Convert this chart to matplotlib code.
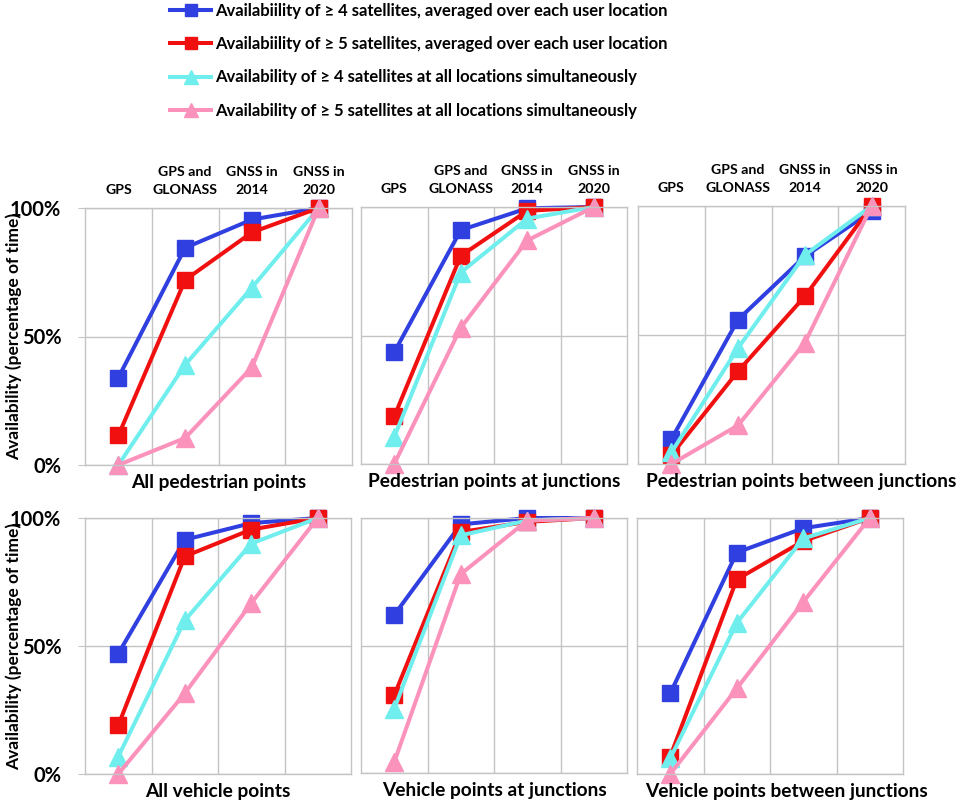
import matplotlib
matplotlib.use("Agg")
import matplotlib.pyplot as plt
import numpy as np

plt.rcParams["font.family"] = ["Lato", "DejaVu Sans"]
plt.rcParams["font.weight"] = "bold"

CATEGORIES = ["GPS", "GPS and\nGLONASS", "GNSS in\n2014", "GNSS in\n2020"]
PANEL_TITLES = [
    "All pedestrian points",
    "Pedestrian points at junctions",
    "Pedestrian points between junctions",
    "All vehicle points",
    "Vehicle points at junctions",
    "Vehicle points between junctions",
]
SERIES_LABELS = [
    "Availabiility of \u2265 4 satellites, averaged over each user location",
    "Availabiility of \u2265 5 satellites, averaged over each user location",
    "Availability of \u2265 4 satellites at all locations simultaneously",
    "Availability of \u2265 5 satellites at all locations simultaneously",
]

# values per panel, fraction of time (GPS, GPS+GLONASS, GNSS 2014, GNSS 2020)
avg4 = [
    [0.34, 0.845, 0.955, 1.00],
    [0.435, 0.91, 0.995, 1.00],
    [0.096, 0.56, 0.805, 0.98],
    [0.47, 0.915, 0.98, 1.00],
    [0.62, 0.975, 1.00, 1.00],
    [0.315, 0.865, 0.96, 1.00],
]
avg5 = [
    [0.115, 0.72, 0.905, 1.00],
    [0.185, 0.81, 0.985, 1.00],
    [0.035, 0.36, 0.65, 1.00],
    [0.19, 0.85, 0.955, 1.00],
    [0.305, 0.945, 0.985, 1.00],
    [0.068, 0.76, 0.91, 1.00],
]
all4 = [
    [0.00, 0.39, 0.69, 1.00],
    [0.105, 0.745, 0.955, 1.00],
    [0.045, 0.45, 0.81, 1.00],
    [0.068, 0.60, 0.90, 1.00],
    [0.252, 0.932, 0.99, 1.00],
    [0.061, 0.59, 0.92, 1.00],
]
all5 = [
    [0.00, 0.105, 0.38, 1.00],
    [0.00, 0.53, 0.87, 1.00],
    [0.00, 0.15, 0.47, 1.00],
    [0.00, 0.315, 0.667, 1.00],
    [0.043, 0.78, 0.99, 1.00],
    [0.00, 0.334, 0.672, 1.00],
]

COLORS = ["#2f3fe0", "#f01010", "#70eeee", "#fb92bc"]
MARKERS = ["s", "s", "^", "^"]
GRID = "#c4c4c4"

W, H = 961, 802
fig = plt.figure(figsize=(W / 100, H / 100), dpi=100)

# panel boxes in pixels: left, top, right, bottom
boxes = [
    (85, 208, 352, 465),
    (361, 207, 627, 464),
    (638, 206, 905, 464),
    (85, 518, 351, 774),
    (361, 518, 627, 773),
    (637, 518, 903, 774),
]
# horizontal shift of the panel titles, pixels
title_shift = [0, 0, 30, 0, 0, 16]

x = np.arange(len(CATEGORIES))
axes = []
for i, (l, t, r, b) in enumerate(boxes):
    ax = fig.add_axes([l / W, 1 - b / H, (r - l) / W, (b - t) / H])
    axes.append(ax)
    for vals, c, m in zip([avg4[i], avg5[i], all4[i], all5[i]], COLORS, MARKERS):
        ms = 12 if m == "s" else 13.5
        ax.plot(x, vals, color=c, marker=m, ms=ms, lw=2.9, clip_on=False,
                solid_joinstyle="miter")
    ax.set_xlim(-0.5, 3.5)
    ax.set_ylim(0, 1)
    ax.set_xticks([])
    ax.set_xticks([0.5, 1.5, 2.5], minor=True)
    ax.set_yticks([0, 0.5, 1])
    ax.grid(True, which="minor", axis="x", color=GRID, lw=1)
    ax.grid(True, which="major", axis="y", color=GRID, lw=1)
    ax.set_axisbelow(True)
    ax.tick_params(axis="x", which="both", length=0)
    for sp in ax.spines.values():
        sp.set_color(GRID)
        sp.set_linewidth(1)
    if i % 3 == 0:
        ax.set_yticklabels(["0%", "50%", "100%"], fontsize=14.5, fontweight="bold")
        ax.tick_params(axis="y", length=5, color=GRID, pad=12)
        ax.set_ylabel("Availability (percentage of time)", fontsize=12.5,
                      fontweight="bold")
        ax.yaxis.set_label_coords(-0.235, 0.5)
    else:
        ax.set_yticklabels([])
        ax.tick_params(axis="y", length=0)
    ax.text(0.5 + title_shift[i] / (r - l), -0.035, PANEL_TITLES[i],
            transform=ax.transAxes, ha="center", va="top", fontsize=13.8,
            fontweight="bold")
    if i < 3:
        for xi, cat in zip(x, CATEGORIES):
            ax.text(xi, 1.045, cat, transform=ax.get_xaxis_transform(),
                    ha="center", va="bottom", multialignment="center",
                    fontsize=10.2, fontweight="bold", linespacing=1.6)

handles = axes[0].get_lines()
fig.legend(handles, SERIES_LABELS, loc="upper left",
           bbox_to_anchor=(168 / W, 1 - 1 / H),
           frameon=False, fontsize=12, markerscale=0.75, handlelength=2.5,
           handletextpad=0.2, labelspacing=1.04, borderaxespad=0, borderpad=0.1)

fig.savefig("out.png", dpi=100)
